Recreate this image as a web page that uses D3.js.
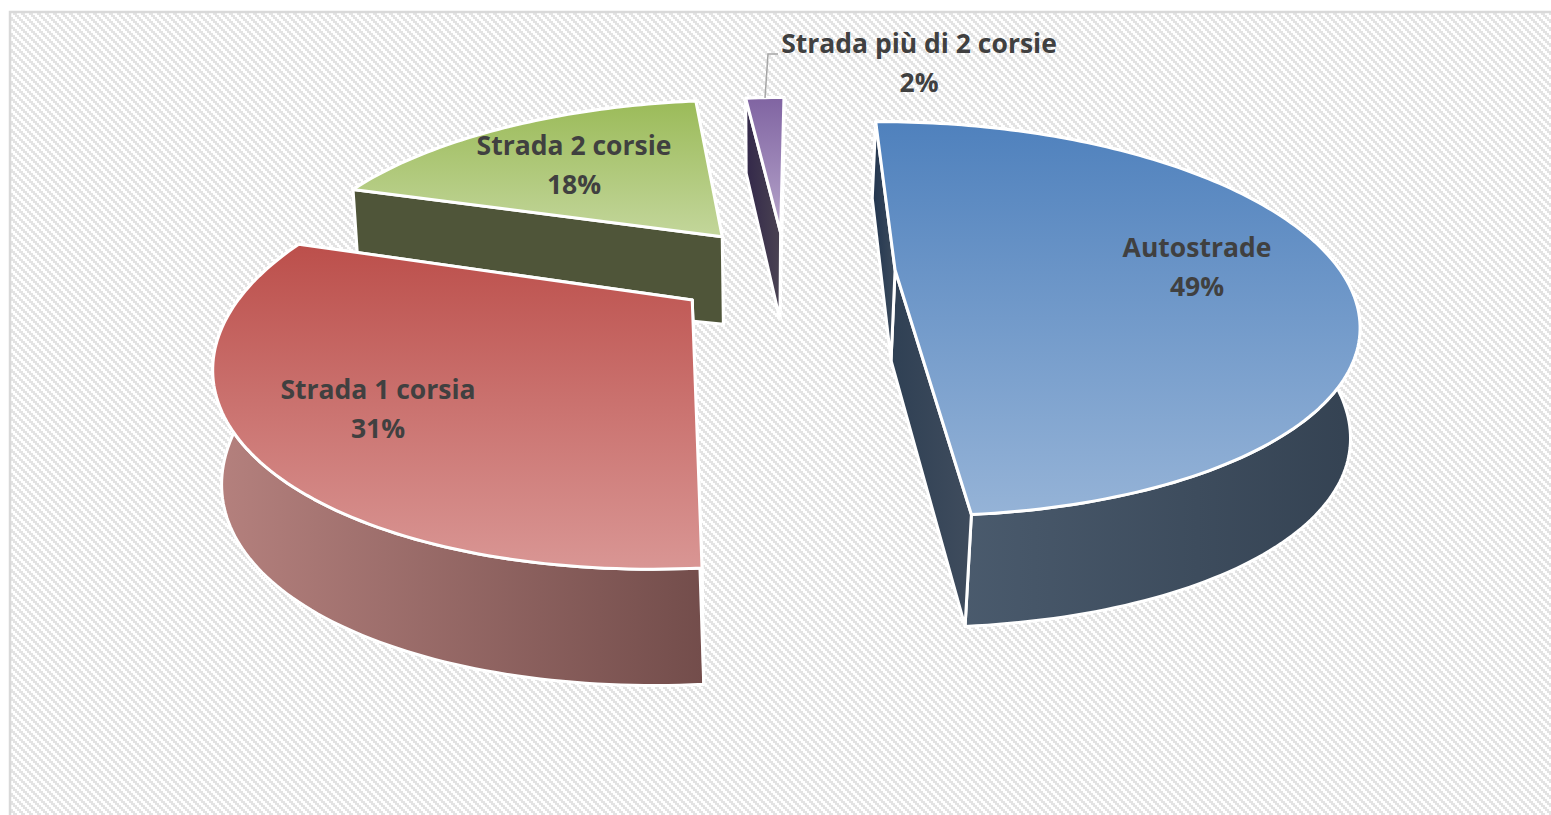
<!DOCTYPE html>
<html>
<head>
<meta charset="utf-8">
<script src="https://cdn.jsdelivr.net/npm/d3@7"></script>
<style>
  html, body { margin: 0; padding: 0; background: #fff; overflow: hidden; }
  svg { display: block; }
  text { font-family: "Open Sans", sans-serif; font-weight: 700; fill: #404040; }
</style>
</head>
<body>
<script>
var categories = ["Autostrade", "Strada 1 corsia", "Strada 2 corsie", "Strada più di 2 corsie"];
var values = [48.8, 31.2, 18.1, 1.9];
var percentLabels = ["49%", "31%", "18%", "2%"];

var width = 1551;
var height = 815;

// top face colours (far -> near), walls (left -> right)
var topColors = [["#4f81bd", "#95b3d7"], ["#bc4f4b", "#d99694"], ["#9bbb59", "#c3d69b"], ["#8064a2", "#b7a6cb"]];
var rimColors = [["#4f6073", "#344252"], ["#b5817e", "#734d4b"], ["#4f5539", "#4f5539"], ["#35294a", "#4a4352"]];
var startFaceColors = [["#22354f", "#3c4b5c"], ["#734d4b", "#734d4b"], ["#4f5539", "#4f5539"], ["#33284a", "#4a4352"]];
var endFaceColors = [["#2f4054", "#3f4c5d"], ["#734d4b", "#734d4b"], ["#4f5539", "#4f5539"], ["#4a4352", "#4a4352"]];

// label placement, centre x and two baselines
var labelX = [1197, 378, 574, 919];
var labelY = [[257, 296], [399, 438], [155, 194], [53, 92]];

// perspective fitted to the picture
var horizonY = -480, scaleY = 745, principalX = 813, focal = 1686;
var radius = 0.245, centerX = -0.0165, centerY = -0.0073;
var stretchX = [1.07, 1.05, 1.06, 1.0];
var explode = [0.265, 0.265, 0.24, 0.215];
var nudgeX = [0, -0.005, -0.007, 0];
var nudgeY = [-0.01, 0.012, 0.006, 0];
var depth = 90, depthPower = 0.75, convergeX = 760, converge = 0.03, bulge = 0.2, sideConverge = 0.6;

function project(px, py, z, zx){
  var w = 1 + centerY + radius * py;
  var x = principalX + focal * (centerX + radius * px) / w;
  var y = horizonY + scaleY / w + depth * z / Math.pow(w, depthPower);
  x = convergeX + (x - convergeX) * (1 - converge * (zx === undefined ? z : zx));
  return [x, y];
}

var startAngle = -0.5 * Math.PI / 180;
var arcs = d3.pie().sort(null).startAngle(startAngle).endAngle(startAngle + 2 * Math.PI)(values);

function apex(d){
  var mid = (d.startAngle + d.endAngle) / 2;
  return [explode[d.index] * Math.sin(mid) + nudgeX[d.index], explode[d.index] * Math.cos(mid) + nudgeY[d.index]];
}
function rimPoint(d, t){
  var a = apex(d);
  return [a[0] + stretchX[d.index] * Math.sin(t), a[1] + Math.cos(t)];
}
function rimAngles(d){
  var n = Math.max(4, Math.round((d.endAngle - d.startAngle) / 0.02));
  return d3.range(n + 1).map(function(i){ return d.startAngle + (d.endAngle - d.startAngle) * i / n; });
}

var line = d3.line();

var svg = d3.select("body").append("svg")
            .attr("width", width)
            .attr("height", height);
var defs = svg.append("defs");

// stepped diagonal hatch
var hatch = defs.append("pattern")
                .attr("id", "hatch")
                .attr("patternUnits", "userSpaceOnUse")
                .attr("x", 1)
                .attr("y", 1)
                .attr("width", 8)
                .attr("height", 8);
hatch.append("rect").attr("width", 8).attr("height", 8).attr("fill", "#fff");
d3.range(0, 8, 2).forEach(function(k){
  [k, k - 8].forEach(function(x0){
    hatch.append("rect")
         .attr("x", x0).attr("y", k)
         .attr("width", 4).attr("height", 2)
         .attr("fill", "#e3e3e3");
  });
});

function gradient(id, colors, vertical){
  var g = defs.append("linearGradient")
              .attr("id", id)
              .attr("x1", 0).attr("y1", 0)
              .attr("x2", vertical ? 0 : 1).attr("y2", vertical ? 1 : 0);
  g.append("stop").attr("offset", "0%").attr("stop-color", colors[0]);
  g.append("stop").attr("offset", "100%").attr("stop-color", colors[1]);
  return "url(#" + id + ")";
}

// chart area
svg.append("rect")
   .attr("x", 10).attr("y", 12)
   .attr("width", width).attr("height", height)
   .attr("fill", "url(#hatch)")
   .attr("stroke", "#d9d9d9")
   .attr("stroke-width", 2.5);

// painter's order: back slices first
var order = [3, 2, 0, 1];

order.forEach(function(i){
  var d = arcs[i];
  var g = svg.append("g");
  var a = apex(d);
  var angles = rimAngles(d);
  var topRim = angles.map(function(t){ return project(rimPoint(d, t)[0], rimPoint(d, t)[1], 0); });
  // the wall is a bit taller and less pinched at the sides than at the front
  var lowRim = angles.map(function(t){
    var s = Math.sin(t);
    var z = 1 + bulge * s * s;
    return project(rimPoint(d, t)[0], rimPoint(d, t)[1], z, z * (1 - sideConverge * s * s));
  });
  var topApex = project(a[0], a[1], 0);
  var lowApex = project(a[0], a[1], 1);

  function face(points, fill){
    g.append("path")
     .attr("d", line(points) + "Z")
     .attr("fill", fill)
     .attr("stroke", "#fff")
     .attr("stroke-width", 3)
     .attr("stroke-linejoin", "round");
  }

  // outer wall
  face(topRim.concat(lowRim.slice().reverse()), gradient("rim" + i, rimColors[i], false));
  // cut faces, the one nearer the viewer last
  face([topApex, topRim[topRim.length - 1], lowRim[lowRim.length - 1], lowApex], gradient("end" + i, endFaceColors[i], false));
  face([topApex, topRim[0], lowRim[0], lowApex], gradient("start" + i, startFaceColors[i], false));
  // top
  face([topApex].concat(topRim), gradient("top" + i, topColors[i], true));
});

// leader line of the small slice
svg.append("path")
   .attr("d", line([[765, 98], [768, 54], [778, 54]]))
   .attr("fill", "none")
   .attr("stroke", "#a6a6a6")
   .attr("stroke-width", 1.5);

categories.forEach(function(name, i){
  svg.append("text")
     .attr("x", labelX[i]).attr("y", labelY[i][0])
     .attr("text-anchor", "middle")
     .attr("font-size", 26.5)
     .text(name);
  svg.append("text")
     .attr("x", labelX[i]).attr("y", labelY[i][1])
     .attr("text-anchor", "middle")
     .attr("font-size", 26.5)
     .text(percentLabels[i]);
});
</script>
</body>
</html>
